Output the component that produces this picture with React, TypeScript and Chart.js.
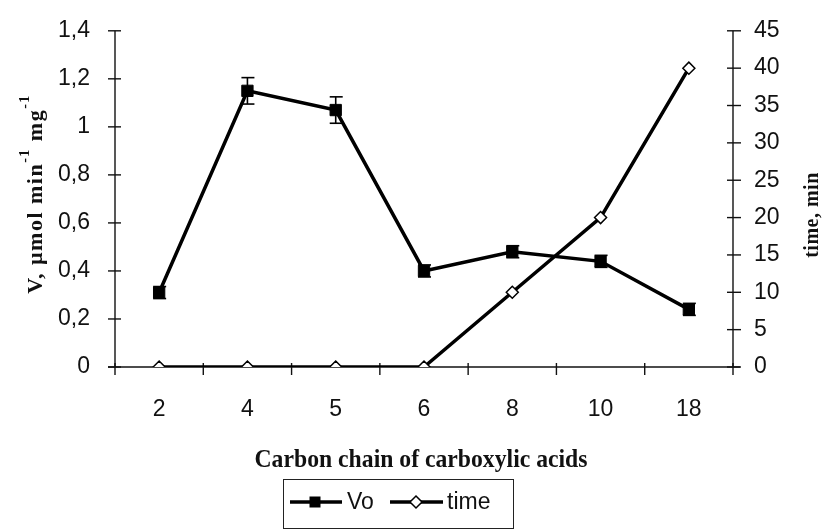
import React, { useEffect, useRef } from "react";
import { Chart, registerables } from "chart.js";

Chart.register(...registerables);

// ---- data ----
const categories = ["2", "4", "5", "6", "8", "10", "18"];
const voValues = [0.31, 1.15, 1.07, 0.4, 0.48, 0.44, 0.24];
const voErrors = [0.025, 0.055, 0.055, 0.025, 0.025, 0.025, 0.025];
const timeValues = [0, 0, 0, 0, 10, 20, 40];
const leftAxisMax = 1.4;
const leftAxisStep = 0.2;
const rightAxisMax = 45;
const rightAxisStep = 5;

const xTitle = "Carbon chain of carboxylic acids";
const leftTitleParts = ["V, µmol min", "-1", " mg", "-1"];
const rightTitle = "time, min";
const legendLabels = ["Vo", "time"];

const SANS = '"Liberation Sans", Arial, Helvetica, sans-serif';
const SERIF = '"Liberation Serif", "Times New Roman", Times, serif';
const INK = "#111";

function fmtComma(v: number) {
  const r = Math.round(v * 10) / 10;
  return Number.isInteger(r) ? String(r) : String(r).replace(".", ",");
}

const decorPlugin = {
  id: "decor",
  beforeDatasetsDraw(chart: any) {
    const ctx: CanvasRenderingContext2D = chart.ctx;
    const { left, right, bottom } = chart.chartArea;
    const x = chart.scales.x;
    const y = chart.scales.y;
    const y1 = chart.scales.y1;
    ctx.save();
    ctx.strokeStyle = INK;
    ctx.lineWidth = 1.4;
    const line = (a: number, b: number, c: number, d: number) => {
      ctx.beginPath();
      ctx.moveTo(a, b);
      ctx.lineTo(c, d);
      ctx.stroke();
    };
    // left axis
    const yTop = y.getPixelForValue(leftAxisMax);
    line(left, yTop, left, bottom);
    y.ticks.forEach((t: any) => {
      const py = y.getPixelForValue(t.value);
      line(left - 7, py, left + 6, py);
    });
    // right axis
    const y1Top = y1.getPixelForValue(rightAxisMax);
    line(right, y1Top, right, bottom);
    y1.ticks.forEach((t: any) => {
      const py = y1.getPixelForValue(t.value);
      line(right - 6, py, right + 8, py);
    });
    // x axis
    line(left - 7, bottom, right + 7, bottom);
    const n = categories.length;
    const w = (right - left) / n;
    for (let i = 0; i <= n; i++) {
      const px = i < n ? x.getPixelForTick(i) - w / 2 : x.getPixelForTick(n - 1) + w / 2;
      line(px, bottom - 4, px, bottom + 8);
    }
    // error bars for Vo
    ctx.lineWidth = 1.6;
    ctx.strokeStyle = "#000";
    voValues.forEach((v, i) => {
      const px = x.getPixelForValue(i);
      const pTop = y.getPixelForValue(v + voErrors[i]);
      const pBot = y.getPixelForValue(v - voErrors[i]);
      line(px, pTop, px, pBot);
      line(px - 6, pTop, px + 7, pTop);
      line(px - 6, pBot, px + 7, pBot);
    });
    ctx.restore();
  },
  afterDraw(chart: any) {
    const ctx: CanvasRenderingContext2D = chart.ctx;
    const { left, right, top, bottom } = chart.chartArea;
    ctx.save();
    ctx.fillStyle = INK;

    // x title (slightly condensed bold serif)
    ctx.font = `bold 25px ${SERIF}`;
    ctx.textBaseline = "alphabetic";
    ctx.textAlign = "left";
    const xtW = ctx.measureText(xTitle).width;
    const sx = 333 / xtW;
    ctx.save();
    ctx.translate((left + right) / 2 - 3, 467);
    ctx.scale(sx, 1);
    ctx.fillText(xTitle, -xtW / 2, 0);
    ctx.restore();

    // left title (rotated, with superscripts)
    ctx.save();
    (ctx as any).letterSpacing = "1.5px";
    const mainFont = `bold 22px ${SERIF}`;
    const supFont = `bold 14px ${SERIF}`;
    const widths = leftTitleParts.map((p, i) => {
      ctx.font = i % 2 === 0 ? mainFont : supFont;
      return ctx.measureText(p).width;
    });
    const total = widths.reduce((a, b) => a + b, 0);
    ctx.translate(42, (top + bottom) / 2 - 5);
    ctx.rotate(-Math.PI / 2);
    let u = -total / 2;
    leftTitleParts.forEach((p, i) => {
      ctx.font = i % 2 === 0 ? mainFont : supFont;
      ctx.fillText(p, u, i % 2 === 0 ? 0 : -13);
      u += widths[i];
    });
    ctx.restore();

    // right title
    ctx.save();
    (ctx as any).letterSpacing = "0.5px";
    ctx.font = `bold 20px ${SERIF}`;
    const rtW = ctx.measureText(rightTitle).width;
    ctx.translate(818, 215);
    ctx.rotate(-Math.PI / 2);
    ctx.fillText(rightTitle, -rtW / 2, 0);
    ctx.restore();

    // legend
    const lx0 = 283, lx1 = 513, ly0 = 479, ly1 = 528;
    ctx.strokeStyle = "#222";
    ctx.lineWidth = 1;
    ctx.strokeRect(lx0 + 0.5, ly0 + 0.5, lx1 - lx0, ly1 - ly0);
    const ly = 502;
    ctx.strokeStyle = "#000";
    ctx.lineWidth = 3.5;
    ctx.beginPath();
    ctx.moveTo(290, ly);
    ctx.lineTo(342, ly);
    ctx.stroke();
    ctx.fillStyle = "#000";
    ctx.fillRect(315 - 5.5, ly - 5.5, 11, 11);
    ctx.beginPath();
    ctx.moveTo(390, ly);
    ctx.lineTo(443, ly);
    ctx.stroke();
    ctx.beginPath();
    ctx.moveTo(416, ly - 6);
    ctx.lineTo(422, ly);
    ctx.lineTo(416, ly + 6);
    ctx.lineTo(410, ly);
    ctx.closePath();
    ctx.fillStyle = "#fff";
    ctx.fill();
    ctx.lineWidth = 1.5;
    ctx.stroke();
    ctx.fillStyle = INK;
    ctx.font = `23px ${SANS}`;
    ctx.textBaseline = "middle";
    ctx.fillText(legendLabels[0], 347, ly + 1);
    ctx.fillText(legendLabels[1], 447, ly + 1);
    ctx.restore();
  },
};

export default function App() {
  const ref = useRef<HTMLCanvasElement>(null);
  useEffect(() => {
    const tickFont = { family: SANS, size: 23 };
    const chart = new Chart(ref.current as HTMLCanvasElement, {
      type: "line",
      data: {
        labels: categories,
        datasets: [
          {
            label: legendLabels[0],
            data: voValues,
            yAxisID: "y",
            borderColor: "#000",
            backgroundColor: "#000",
            borderWidth: 3.5,
            tension: 0,
            pointStyle: "rect",
            pointRadius: 8,
            pointBackgroundColor: "#000",
            pointBorderColor: "#000",
            pointBorderWidth: 1,
          },
          {
            label: legendLabels[1],
            data: timeValues,
            yAxisID: "y1",
            borderColor: "#000",
            backgroundColor: "#fff",
            borderWidth: 3.5,
            tension: 0,
            pointStyle: "rectRot",
            pointRadius: 6,
            pointBackgroundColor: "#fff",
            pointBorderColor: "#000",
            pointBorderWidth: 1.5,
          },
        ],
      },
      options: {
        responsive: false,
        animation: false,
        layout: { padding: { top: 24, left: 0, right: 0, bottom: 0 } },
        plugins: { legend: { display: false }, tooltip: { enabled: false } },
        scales: {
          x: {
            type: "category",
            offset: true,
            grid: { display: false },
            border: { display: false },
            ticks: { color: INK, font: tickFont, padding: 21, maxRotation: 0, autoSkip: false },
            afterFit: (s: any) => {
              s.height = 162;
            },
          },
          y: {
            position: "left",
            min: 0,
            max: leftAxisMax,
            grid: { display: false },
            border: { display: false },
            ticks: { stepSize: leftAxisStep, color: INK, font: tickFont, padding: 17, callback: (v: any) => fmtComma(Number(v)) },
            afterFit: (s: any) => {
              s.width = 115;
            },
          },
          y1: {
            position: "right",
            min: 0,
            max: rightAxisMax,
            grid: { display: false },
            border: { display: false },
            ticks: { stepSize: rightAxisStep, color: INK, font: tickFont, padding: 13 },
            afterFit: (s: any) => {
              s.width = 91;
            },
          },
        },
      } as any,
      plugins: [decorPlugin],
    });
    return () => chart.destroy();
  }, []);
  return (
    <div style={{ position: "fixed", left: 0, top: 0, width: 824, height: 529, background: "#fff" }}>
      <canvas ref={ref} width={824} height={529} style={{ display: "block" }} />
    </div>
  );
}
